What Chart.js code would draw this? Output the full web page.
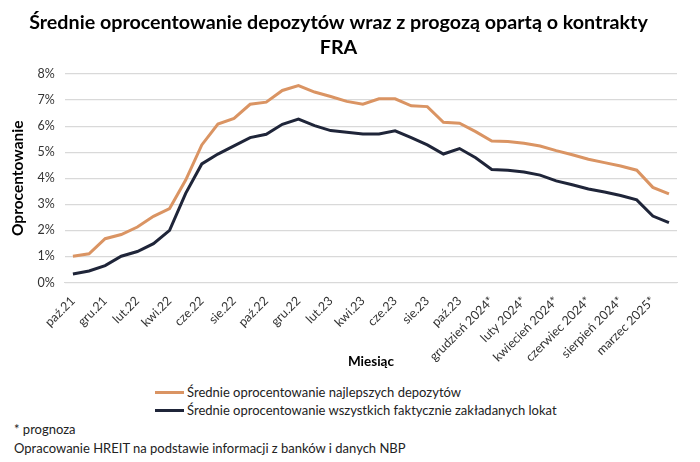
<!DOCTYPE html>
<html>
<head>
<meta charset="utf-8">
<script src="https://cdn.jsdelivr.net/npm/chart.js@4/dist/chart.umd.min.js"></script>
<style>
  body { margin: 0; background: #fff; font-family: Lato, "Liberation Sans", sans-serif; }
  #wrap { position: relative; width: 700px; height: 462px; }
  #box { position: absolute; left: 0; top: 0; width: 700px; height: 370px; }
  .leg { position: absolute; left: 155px; font-size: 13px; color: #222; display: flex; align-items: center; }
  .leg span.ln { display: inline-block; width: 29px; height: 3px; margin-right: 3px; }
  .note { position: absolute; left: 14px; font-size: 13px; color: #222; }
</style>
</head>
<body>
<div id="wrap">
  <div id="box"><canvas id="c"></canvas></div>
  <div class="leg" style="top:384px"><span class="ln" style="background:#DA9463"></span>Średnie oprocentowanie najlepszych depozytów</div>
  <div class="leg" style="top:402px"><span class="ln" style="background:#1F2539"></span>Średnie oprocentowanie wszystkich faktycznie zakładanych lokat</div>
  <div class="note" style="top:421px">* prognoza</div>
  <div class="note" style="top:440px">Opracowanie HREIT na podstawie informacji z banków i danych NBP</div>
</div>
<script>
// miesiące (co drugi podpis widoczny na osi)
const months = [
  "paź.21", "lis.21", "gru.21", "sty.22", "lut.22", "mar.22", "kwi.22", "maj.22",
  "cze.22", "lip.22", "sie.22", "wrz.22", "paź.22", "lis.22", "gru.22", "sty.23",
  "lut.23", "mar.23", "kwi.23", "maj.23", "cze.23", "lip.23", "sie.23", "wrz.23",
  "paź.23", "listopad 2023*", "grudzień 2024*", "styczeń 2024*", "luty 2024*", "marzec 2024*",
  "kwiecień 2024*", "maj 2024*", "czerwiec 2024*", "lipiec 2024*", "sierpień 2024*", "wrzesień 2024*",
  "marzec 2025*", "czerwiec 2025*"
];

const bestDeposits = [
  1.01, 1.10, 1.68, 1.84, 2.13, 2.54, 2.84, 3.93, 5.28, 6.08,
  6.30, 6.84, 6.92, 7.37, 7.56, 7.31, 7.14, 6.95, 6.84, 7.05,
  7.05, 6.78, 6.75, 6.15, 6.11, 5.79, 5.43, 5.41, 5.34, 5.24,
  5.06, 4.90, 4.73, 4.60, 4.47, 4.31, 3.65, 3.40
];

const allDeposits = [
  0.33, 0.44, 0.65, 1.01, 1.19, 1.49, 2.00, 3.42, 4.55, 4.93,
  5.24, 5.56, 5.69, 6.07, 6.27, 6.02, 5.83, 5.77, 5.70, 5.70,
  5.82, 5.56, 5.28, 4.93, 5.14, 4.79, 4.34, 4.31, 4.24, 4.12,
  3.90, 3.75, 3.59, 3.47, 3.34, 3.17, 2.55, 2.30
];

const yTicks = [0, 1, 2, 3, 4, 5, 6, 7, 8];

const font = "Lato, 'Liberation Sans', sans-serif";

new Chart(document.getElementById("c"), {
  type: "line",
  data: {
    labels: months,
    datasets: [
      {
        label: "Średnie oprocentowanie najlepszych depozytów",
        data: bestDeposits,
        borderColor: "#DA9463",
        borderWidth: 3,
        pointRadius: 0,
        tension: 0
      },
      {
        label: "Średnie oprocentowanie wszystkich faktycznie zakładanych lokat",
        data: allDeposits,
        borderColor: "#1F2539",
        borderWidth: 3,
        pointRadius: 0,
        tension: 0
      }
    ]
  },
  options: {
    responsive: true,
    maintainAspectRatio: false,
    animation: false,
    layout: { padding: { left: 0, right: 23, bottom: 0 } },
    plugins: {
      legend: { display: false },
      tooltip: { enabled: false },
      title: {
        display: true,
        text: ["Średnie oprocentowanie depozytów wraz z progozą opartą o kontrakty", "FRA"],
        color: "#000",
        font: { family: font, size: 19.7, weight: "bold", lineHeight: 1.27 },
        padding: { top: 10, bottom: 14 }
      }
    },
    scales: {
      x: {
        offset: true,
        grid: { display: false },
        border: { display: true, color: "#d9d9d9" },
        ticks: {
          autoSkip: false,
          minRotation: 45,
          maxRotation: 45,
          color: "#333",
          font: { family: font, size: 12.5 },
          callback: function (value, index) {
            return index % 2 === 0 ? this.getLabelForValue(value) : "";
          }
        },
        title: {
          display: true,
          text: "Miesiąc",
          color: "#000",
          font: { family: font, size: 13.5, weight: "bold" },
          padding: { top: -14, bottom: 0 }
        }
      },
      y: {
        min: 0,
        max: 8,
        afterBuildTicks: (axis) => { axis.ticks = yTicks.map(v => ({ value: v })); },
        grid: { color: "#d9d9d9", lineWidth: 1.3, drawTicks: false },
        border: { display: false },
        ticks: {
          color: "#333",
          padding: 10,
          font: { family: font, size: 12.5 },
          callback: v => v + "%"
        },
        title: {
          display: true,
          text: "Oprocentowanie",
          color: "#000",
          font: { family: font, size: 15.5, weight: "bold" },
          padding: { top: 9, bottom: 0 }
        }
      }
    }
  }
});
</script>
</body>
</html>
